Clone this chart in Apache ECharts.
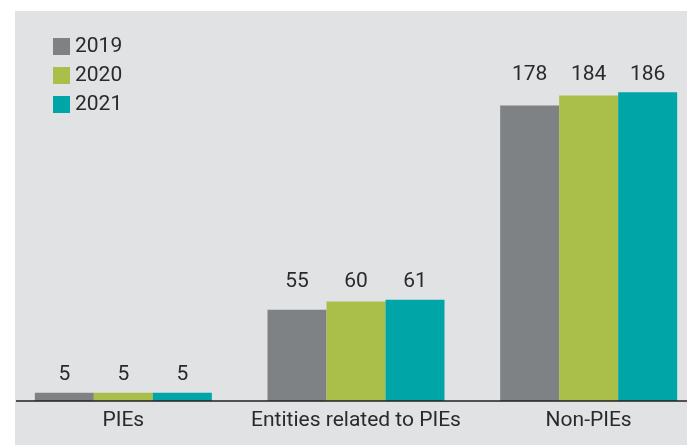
<!DOCTYPE html>
<html>
<head>
<meta charset="utf-8">
<script src="https://cdn.jsdelivr.net/npm/echarts@6/dist/echarts.min.js"></script>
<style>
html,body{margin:0;padding:0;background:#ffffff;}
#chart{width:687px;height:445px;}
</style>
</head>
<body>
<div id="chart"></div>
<script>
const categories = ['PIEs', 'Entities related to PIEs', 'Non-PIEs'];
const seriesNames = ['2019', '2020', '2021'];
const values2019 = [5, 55, 178];
const values2020 = [5, 60, 184];
const values2021 = [5, 61, 186];
const colors = ['#7f8285', '#a9bf4a', '#00a5a7'];

const allValues = [values2019, values2020, values2021];
const groupMax = categories.map((c, i) => Math.max(values2019[i], values2020[i], values2021[i]));

const chart = echarts.init(document.getElementById('chart'), null, {renderer: 'canvas'});
const font = 'Roboto, "Noto Sans", sans-serif';
const textColor = '#2a2a2a';
const fs = 21;

const realSeries = seriesNames.map((name, k) => ({
  name: name,
  type: 'bar',
  xAxisIndex: 0,
  data: allValues[k],
  barWidth: 59,
  barGap: '0%',
  itemStyle: {color: colors[k]},
  silent: true
}));
const labelSeries = seriesNames.map((name, k) => ({
  name: 'lbl' + name,
  type: 'bar',
  xAxisIndex: 1,
  data: groupMax,
  barWidth: 59,
  barGap: '0%',
  itemStyle: {color: 'rgba(0,0,0,0)'},
  silent: true,
  z: 5,
  label: {
    show: true,
    position: 'top',
    distance: 7,
    fontFamily: font,
    fontSize: fs,
    color: textColor,
    formatter: (p) => String(allValues[k][p.dataIndex])
  }
}));

chart.setOption({
  animation: false,
  graphic: [
    {type: 'rect', z: -10, silent: true, shape: {x: 15, y: 11, width: 672, height: 434}, style: {fill: '#e1e2e4'}},
    {type: 'line', z: 100, silent: true, shape: {x1: 16, y1: 401, x2: 687, y2: 401}, style: {stroke: '#231f20', lineWidth: 1.5}}
  ],
  legend: {
    data: seriesNames,
    orient: 'vertical',
    left: 48,
    top: 31,
    itemWidth: 17,
    itemHeight: 17,
    itemGap: 8,
    icon: 'rect',
    textStyle: {fontFamily: font, fontSize: fs, color: textColor, padding: [0, 0, 0, 0]},
    selectedMode: false
  },
  grid: {left: 7, top: 69, right: -18, bottom: 44, outerBoundsMode: 'none', containLabel: false},
  xAxis: [
    {
      type: 'category',
      data: categories,
      axisLine: {show: false},
      axisTick: {show: false},
      axisLabel: {fontFamily: font, fontSize: fs, color: textColor, margin: 9, interval: 0, hideOverlap: false}
    },
    {
      type: 'category',
      data: categories,
      show: false
    }
  ],
  yAxis: {
    type: 'value',
    min: 0,
    max: 200,
    show: false,
    splitLine: {show: false}
  },
  series: realSeries.concat(labelSeries)
});
</script>
</body>
</html>
